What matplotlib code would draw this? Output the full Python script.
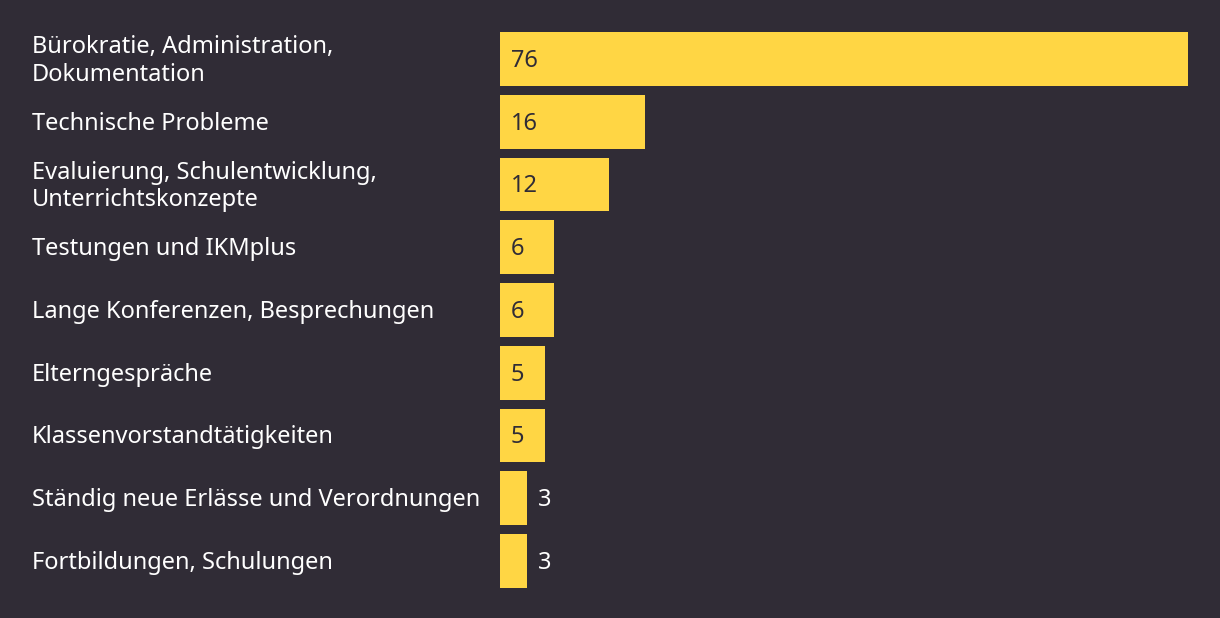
import matplotlib.pyplot as plt

plt.rcParams['font.family'] = ['Noto Sans', 'DejaVu Sans']

categories = ['Bürokratie, Administration,\nDokumentation', 'Technische Probleme',
              'Evaluierung, Schulentwicklung,\nUnterrichtskonzepte', 'Testungen und IKMplus',
              'Lange Konferenzen, Besprechungen', 'Elterngespräche',
              'Klassenvorstandtätigkeiten', 'Ständig neue Erlässe und Verordnungen',
              'Fortbildungen, Schulungen']
values = [76, 16, 12, 6, 6, 5, 5, 3, 3]

bg = '#302c36'
bar_color = '#ffd644'

W, H = 1220, 618
fig = plt.figure(figsize=(W / 100, H / 100), dpi=100, facecolor=bg)
# axes placed in pixel terms: bars from x=500 to 1188, rows from y=27.6 to 592.4
ax = fig.add_axes([500 / W, (H - 592.4) / H, 688 / W, 564.8 / H])
ax.set_facecolor(bg)

y = list(range(len(values)))
ax.barh(y, values, height=0.86, color=bar_color)
ax.set_xlim(0, 76)
ax.set_ylim(len(values) - 0.5, -0.5)
ax.axis('off')

fs = 17
dy = 0.03  # nudge text slightly down
for i, (cat, v) in enumerate(zip(categories, values)):
    ax.text(-468 / 688 * 76, i + dy, cat, ha='left', va='center', color='white',
            fontsize=fs, linespacing=1.2)
    if v >= 5:
        ax.text(11 / 688 * 76, i + dy, str(v), ha='left', va='center', color='#302c36', fontsize=fs)
    else:
        ax.text(v + 11 / 688 * 76, i + dy, str(v), ha='left', va='center', color='white', fontsize=fs)

fig.savefig('out.png', dpi=100, facecolor=bg)
